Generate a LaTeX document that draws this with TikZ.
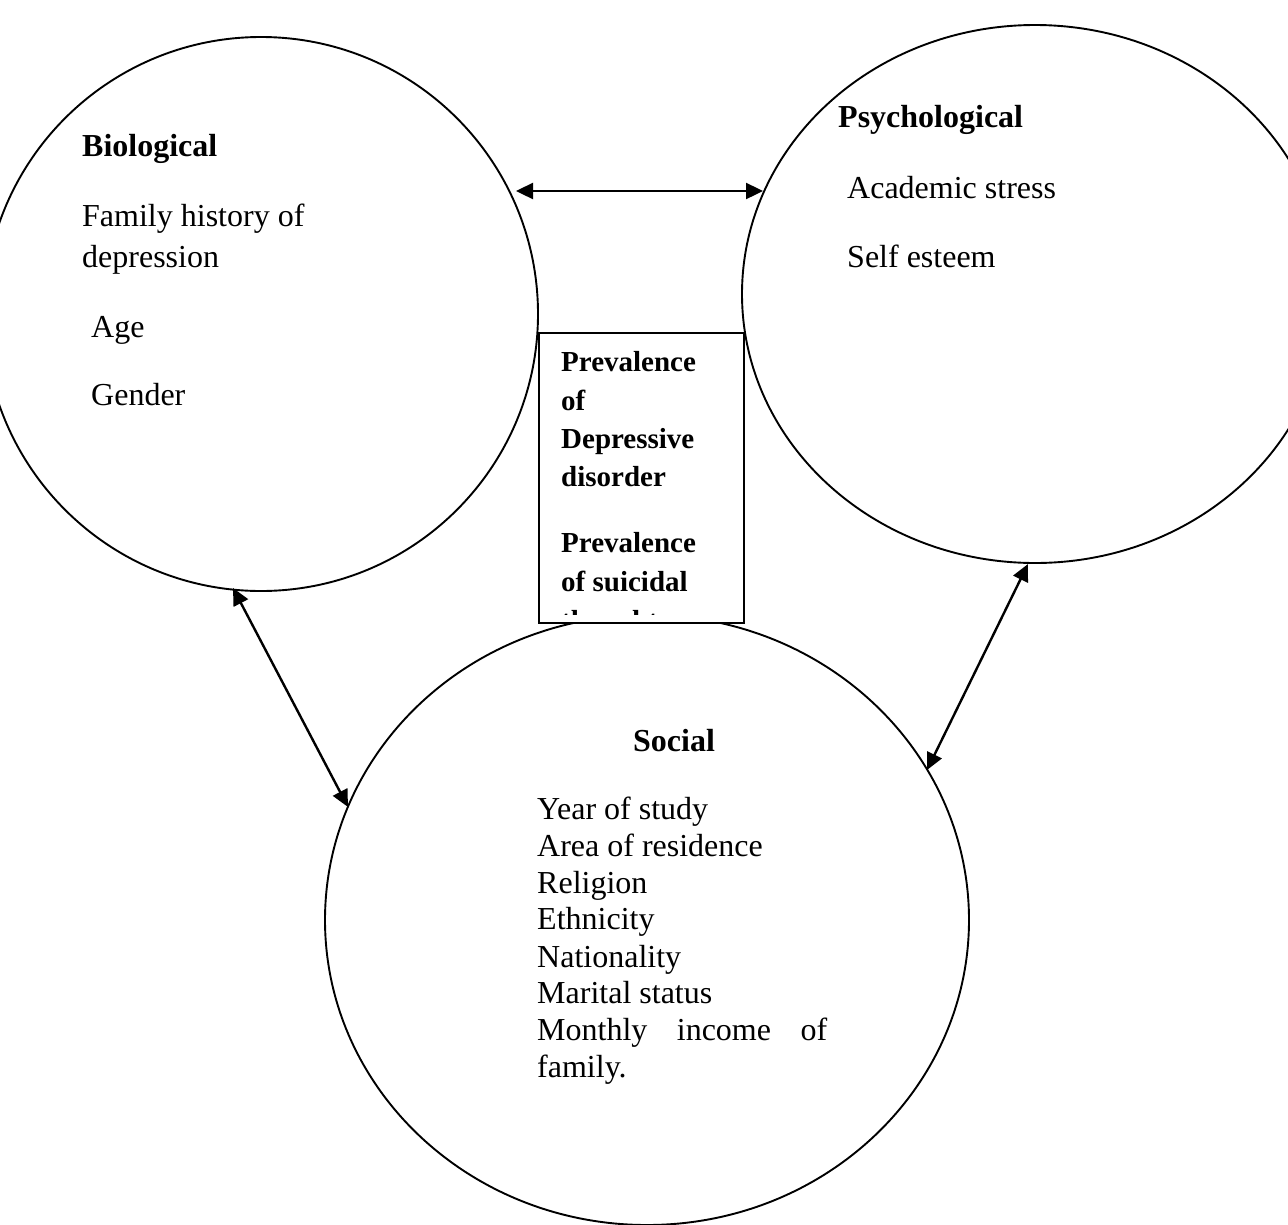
\documentclass[tikz,border=0pt]{standalone}
\usepackage{fontspec}
\setmainfont{Liberation Serif}
\usetikzlibrary{shapes.geometric,arrows.meta}
\begin{document}
\begin{tikzpicture}[x=1pt,y=-1pt,
  circ/.style={draw,ellipse,line width=1.9pt,inner sep=0pt,outer sep=0pt},
  body/.style={anchor=base west,inner sep=0pt,font=\fontsize{32}{37}\selectfont},
  head/.style={anchor=base west,inner sep=0pt,font=\fontsize{32}{37}\selectfont\bfseries},
  boxtxt/.style={anchor=base west,inner sep=0pt,font=\fontsize{29}{38}\selectfont\bfseries},
  arr/.style={line width=2.4pt,{Triangle[length=17pt,width=16pt]}-{Triangle[length=17pt,width=16pt]}}]
\useasboundingbox (0,0) rectangle (1288,1224);
\clip (0,0) rectangle (1288,1224);
% circles
\node[circ,minimum width=554pt,minimum height=554pt] (bio) at (261,314) {};
\node[circ,minimum width=586pt,minimum height=538pt] (psy) at (1035,294) {};
\node[circ,minimum width=644pt,minimum height=610pt] (soc) at (647,920) {};
% central box
\node[draw,fill=white,line width=2pt,inner sep=0pt,minimum width=205pt,minimum height=290pt] (prev) at (641.5,478) {};
\begin{scope}
\clip (540,334) rectangle (743,614);
\node[boxtxt] (p1) at (561,371) {Prevalence};
\node[boxtxt] (p2) at (561,410) {of};
\node[boxtxt] (p3) at (561,448) {Depressive};
\node[boxtxt] (p4) at (561,486) {disorder};
\node[boxtxt] (p5) at (561,552) {Prevalence};
\node[boxtxt] (p6) at (561,591) {of suicidal};
\node[boxtxt] (p7) at (561,630) {thoughts};
\end{scope}
% Biological text
\node[head] (bioh) at (82,156) {Biological};
\node[body] (b1) at (82,226) {Family history of};
\node[body] (b2) at (82,267) {depression};
\node[body] (b3) at (91,337) {Age};
\node[body] (b4) at (91,405) {Gender};
% Psychological text
\node[head] (psyh) at (838,127) {Psychological};
\node[body] (s1) at (847,198) {Academic stress};
\node[body] (s2) at (847,267) {Self esteem};
% Social text
\node[head] (soch) at (633,751) {Social};
\node[body] (c1) at (537,819) {Year of study};
\node[body] (c2) at (537,856) {Area of residence};
\node[body] (c3) at (537,893) {Religion};
\node[body] (c4) at (537,929) {Ethnicity};
\node[body] (c5) at (537,967) {Nationality};
\node[body] (c6) at (537,1003) {Marital status};
\node[body] (c7) at (537,1040) {\makebox[290pt][s]{Monthly income of}};
\node[body] (c8) at (537,1077) {family.};
% arrow ends
\coordinate (bioR) at (516,191);
\coordinate (psyL) at (763,191);
\coordinate (bioB) at (233,588);
\coordinate (socL) at (348,807);
\coordinate (psyB) at (1028,564);
\coordinate (socR) at (927,770);
\draw[arr] (bioR) -- (psyL);
\draw[arr] (bioB) -- (socL);
\draw[arr] (psyB) -- (socR);
\end{tikzpicture}
\end{document}
